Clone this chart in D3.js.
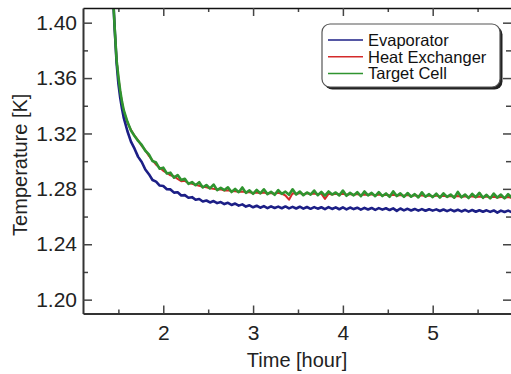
<!DOCTYPE html>
<html>
<head>
<meta charset="utf-8">
<script src="https://cdn.jsdelivr.net/npm/d3@7"></script>
<style>
  body { margin: 0; background: #fff; }
  svg { display: block; font-family: "Liberation Sans", Arial, sans-serif; }
</style>
</head>
<body>
<svg id="chart" width="511" height="374"></svg>
<script>
// time axis in hours
const times = [1.44,1.46,1.48,1.50,1.52,1.54,1.56,
  1.60,1.64,1.68,1.72,1.76,1.80,1.84,1.88,1.92,1.96,
  2.00,2.04,2.08,2.12,2.16,2.20,2.24,2.28,2.32,2.36,2.40,2.44,2.48,2.52,2.56,2.60,2.64,2.68,2.72,2.76,2.80,2.84,2.88,2.92,2.96,
  3.00,3.04,3.08,3.12,3.16,3.20,3.24,3.28,3.32,3.36,3.40,3.44,3.48,3.52,3.56,3.60,3.64,3.68,3.72,3.76,3.80,3.84,3.88,3.92,3.96,
  4.00,4.04,4.08,4.12,4.16,4.20,4.24,4.28,4.32,4.36,4.40,4.44,4.48,4.52,4.56,4.60,4.64,4.68,4.72,4.76,4.80,4.84,4.88,4.92,4.96,
  5.00,5.04,5.08,5.12,5.16,5.20,5.24,5.28,5.32,5.36,5.40,5.44,5.48,5.52,5.56,5.60,5.64,5.68,5.72,5.76,5.80,5.84,5.88];

const evaporator = [1.420,1.394,1.371,1.356,1.346,1.338,1.3312,
  1.3218,1.3141,1.3090,1.3031,1.2994,1.2940,1.2906,1.2864,1.2852,1.2824,
  1.2821,1.2797,1.2796,1.2773,1.2775,1.2752,1.2755,1.2736,1.2740,1.2721,1.2727,1.2709,1.2716,1.2702,1.2712,1.2697,1.2705,1.2690,1.2699,1.2684,1.2694,1.2679,1.2688,1.2672,1.2681,
  1.2667,1.2678,1.2664,1.2675,1.2661,1.2674,1.2662,1.2672,1.2660,1.2673,1.2659,1.2670,1.2658,1.2671,1.2657,1.2669,1.2656,1.2668,1.2657,1.2667,1.2654,1.2668,1.2655,1.2666,1.2653,
  1.2666,1.2652,1.2665,1.2654,1.2664,1.2650,1.2663,1.2651,1.2662,1.2648,1.2661,1.2650,1.2660,1.2647,1.2659,1.2641,1.2658,1.2645,1.2656,1.2644,1.2655,1.2643,1.2654,1.2642,1.2653,
  1.2643,1.2652,1.2640,1.2651,1.2639,1.2650,1.2638,1.2649,1.2637,1.2648,1.2636,1.2647,1.2635,1.2646,1.2635,1.2645,1.2634,1.2644,1.2628,1.2643,1.2633,1.2643,1.2632];

const heatExchanger = [1.420,1.395,1.373,1.3605,1.3505,1.3425,1.3362,
  1.3279,1.3226,1.3184,1.3150,1.3110,1.3079,1.3038,1.3006,1.2975,1.2952,
  1.2930,1.2915,1.2898,1.2890,1.2872,1.2855,1.2858,1.2842,1.2836,1.2830,1.2822,1.2815,1.2812,1.2805,1.2800,1.2796,1.2797,1.2788,1.2790,1.2785,1.2783,1.2779,1.2781,1.2775,1.2776,
  1.2770,1.2774,1.2768,1.2773,1.2766,1.2770,1.2765,1.2771,1.2765,1.2752,1.2722,1.2768,1.2764,1.2769,1.2762,1.2768,1.2763,1.2767,1.2761,1.2766,1.2728,1.2764,1.2760,1.2765,1.2759,
  1.2764,1.2758,1.2762,1.2757,1.2763,1.2755,1.2760,1.2756,1.2761,1.2754,1.2759,1.2753,1.2758,1.2752,1.2757,1.2751,1.2756,1.2750,1.2755,1.2749,1.2754,1.2748,1.2753,1.2747,1.2752,
  1.2746,1.2751,1.2745,1.2750,1.2744,1.2749,1.2743,1.2748,1.2742,1.2747,1.2741,1.2746,1.2740,1.2745,1.2739,1.2744,1.2738,1.2743,1.2737,1.2742,1.2736,1.2741,1.2735];

const targetCell = [1.420,1.395,1.373,1.361,1.351,1.343,1.3368,
  1.3286,1.3221,1.3182,1.3146,1.3117,1.3075,1.3049,1.3001,1.2990,1.2945,
  1.2953,1.2911,1.2917,1.2881,1.2900,1.2864,1.2873,1.2836,1.2849,1.2826,1.2848,1.2810,1.2828,1.2803,1.2831,1.2791,1.2808,1.2791,1.2811,1.2777,1.2800,1.2776,1.2810,1.2771,1.2789,
  1.2764,1.2792,1.2768,1.2797,1.2762,1.2779,1.2757,1.2791,1.2764,1.2780,1.2757,1.2797,1.2759,1.2781,1.2754,1.2774,1.2759,1.2788,1.2754,1.2778,1.2751,1.2781,1.2759,1.2774,1.2753,
  1.2788,1.2750,1.2771,1.2753,1.2776,1.2747,1.2781,1.2753,1.2771,1.2747,1.2776,1.2748,1.2767,1.2743,1.2782,1.2748,1.2768,1.2742,1.2770,1.2743,1.2762,1.2738,1.2775,1.2743,1.2762,
  1.2740,1.2765,1.2737,1.2768,1.2742,1.2759,1.2736,1.2778,1.2739,1.2759,1.2734,1.2764,1.2740,1.2771,1.2735,1.2757,1.2731,1.2766,1.2737,1.2759,1.2732,1.2762,1.2737];

const seriesNames = ["Evaporator", "Heat Exchanger", "Target Cell"];
const seriesColors = ["#1c1f86", "#d42a2a", "#2f942f"];
const seriesWidths = [2.6, 2, 2.6];
const xTicks = [2, 3, 4, 5];
const xMinorTicks = [1.5, 2.5, 3.5, 4.5, 5.5];
const yTicks = [1.20, 1.24, 1.28, 1.32, 1.36, 1.40];
const yMinorTicks = [1.22, 1.26, 1.30, 1.34, 1.38];

const svg = d3.select("#chart");
const pLeft = 83, pRight = 511, pTop = 8, pBottom = 313.5;

const x = d3.scaleLinear().domain([1.106, 5.872]).range([pLeft, pRight]);
const y = d3.scaleLinear().domain([1.19, 1.4106]).range([pBottom, pTop]);

svg.append("defs").append("clipPath").attr("id", "plotclip")
  .append("rect").attr("x", pLeft).attr("y", pTop).attr("width", pRight - pLeft).attr("height", pBottom - pTop);

// data, drawn so green sits on top
const allSeries = [evaporator, heatExchanger, targetCell];
const line = d3.line().x((d, i) => x(times[i])).y(d => y(d));
const plot = svg.append("g").attr("clip-path", "url(#plotclip)");
[1, 0, 2].forEach(k => {
  plot.append("path")
    .datum(allSeries[k])
    .attr("fill", "none")
    .attr("stroke", seriesColors[k])
    .attr("stroke-width", seriesWidths[k])
    .attr("stroke-linejoin", "round")
    .attr("d", line);
});

function styleAxis(g) {
  g.selectAll(".domain").attr("stroke", "#333").attr("stroke-width", 2);
  g.selectAll(".tick line").attr("stroke", "#444").attr("stroke-width", 1.5);
  g.selectAll(".tick text").attr("fill", "#222").style("font-size", "21px").style("font-family", "Liberation Sans, Arial, sans-serif");
}

// bottom
svg.append("g").attr("transform", `translate(0,${pBottom})`)
  .call(d3.axisBottom(x).tickValues(xMinorTicks).tickSize(-4).tickFormat(""))
  .call(g => g.select(".domain").remove())
  .call(styleAxis);
svg.append("g").attr("transform", `translate(0,${pBottom})`)
  .call(d3.axisBottom(x).tickValues(xTicks).tickSizeInner(-8).tickSizeOuter(0).tickPadding(12).tickFormat(d3.format("d")))
  .call(styleAxis);

// top
svg.append("g").attr("transform", `translate(0,${pTop})`)
  .call(d3.axisTop(x).tickValues(xMinorTicks).tickSize(-4).tickFormat(""))
  .call(g => g.select(".domain").remove())
  .call(styleAxis);
svg.append("g").attr("transform", `translate(0,${pTop})`)
  .call(d3.axisTop(x).tickValues(xTicks).tickSizeInner(-8).tickSizeOuter(0).tickFormat(""))
  .call(styleAxis)
  .call(g => g.select(".domain").attr("stroke", "#111").attr("stroke-width", 1.6));

// left
svg.append("g").attr("transform", `translate(${pLeft},0)`)
  .call(d3.axisLeft(y).tickValues(yMinorTicks).tickSize(-5).tickFormat(""))
  .call(g => g.select(".domain").remove())
  .call(styleAxis);
svg.append("g").attr("transform", `translate(${pLeft},0)`)
  .call(d3.axisLeft(y).tickValues(yTicks).tickSizeInner(-9).tickSizeOuter(0).tickPadding(6).tickFormat(d3.format(".2f")))
  .call(styleAxis);

// right (edge of the frame is cut by the picture)
svg.append("g").attr("transform", `translate(${pRight},0)`)
  .call(d3.axisRight(y).tickValues(yMinorTicks).tickSize(-5).tickFormat(""))
  .call(g => g.select(".domain").remove())
  .call(styleAxis);
svg.append("g").attr("transform", `translate(${pRight},0)`)
  .call(d3.axisRight(y).tickValues(yTicks).tickSize(-8).tickFormat(""))
  .call(g => g.select(".domain").remove())
  .call(styleAxis);

// axis titles
svg.append("text")
  .attr("x", (pLeft + pRight) / 2).attr("y", 367)
  .attr("text-anchor", "middle")
  .attr("fill", "#222").style("font-size", "20px")
  .text("Time [hour]");
svg.append("text")
  .attr("transform", `translate(27,${(pTop + pBottom) / 2 + 4}) rotate(-90)`)
  .attr("text-anchor", "middle")
  .attr("fill", "#222").style("font-size", "20px")
  .text("Temperature [K]");

// legend
const lg = svg.append("g").attr("transform", "translate(322,24)");
lg.append("rect").attr("x", 2.5).attr("y", 2.5).attr("width", 178).attr("height", 63).attr("rx", 8)
  .attr("fill", "#222");
lg.append("rect").attr("x", 0).attr("y", 0).attr("width", 178).attr("height", 63).attr("rx", 8)
  .attr("fill", "#fff").attr("stroke", "#555").attr("stroke-width", 1.2);
seriesNames.forEach((name, i) => {
  const ry = 16 + i * 16.7;
  lg.append("line").attr("x1", 6).attr("x2", 41).attr("y1", ry).attr("y2", ry)
    .attr("stroke", seriesColors[i]).attr("stroke-width", 1.5);
  lg.append("text").attr("x", 46).attr("y", ry + 6)
    .attr("fill", "#111").style("font-size", "16.5px")
    .text(name);
});
</script>
</body>
</html>
